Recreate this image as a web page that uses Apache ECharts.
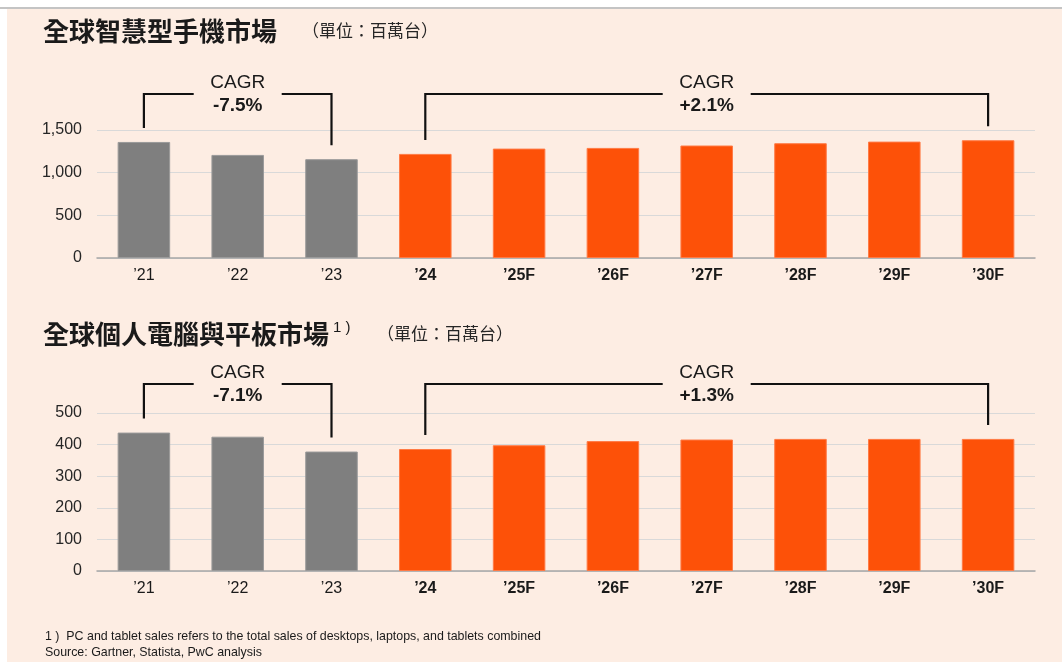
<!DOCTYPE html>
<html><head><meta charset="utf-8">
<script src="https://cdn.jsdelivr.net/npm/echarts@6/dist/echarts.min.js"></script>
<style>html,body{margin:0;padding:0;background:#fff}#c{width:1062px;height:662px}</style>
</head><body><div id="c"></div>
<script>
const categories = ['’21','’22','’23','’24','’25F','’26F','’27F','’28F','’29F','’30F'];
const phoneValues = [1360, 1208, 1158, 1220, 1282, 1290, 1318, 1345, 1364, 1380];
const pcValues = [438, 425, 378, 386, 398, 411, 416, 418, 418, 418];
const actualCount = 3;
// brackets: [startIndex, endIndex, label]
const phoneCagr = [[0, 2, '-7.5%'], [3, 9, '+2.1%']];
const pcCagr = [[0, 2, '-7.1%'], [3, 9, '+1.3%']];
const phoneTicks = [0, 500, 1000, 1500];
const pcTicks = [0, 100, 200, 300, 400, 500];
const title1 = '全球智慧型手機市場';
const title2 = '全球個人電腦與平板市場';
const unitText = '（單位：百萬台）';
const footnote = '1 )  PC and tablet sales refers to the total sales of desktops, laptops, and tablets combined';
const source = 'Source: Gartner, Statista, PwC analysis';

const LAT = 'Liberation Sans, Arial, sans-serif';
const CJK = 'Noto Sans CJK TC, Noto Sans CJK SC, sans-serif';
const GRAY = '#7f7f7f', ORANGE = '#fd5108';

const chart = echarts.init(document.getElementById('c'));

function barData(vals){
  return vals.map((v, i) => ({value: v, itemStyle: i < actualCount
    ? {color: GRAY, borderColor: '#9a9a9a', borderWidth: 1}
    : {color: ORANGE, borderColor: '#ff7a45', borderWidth: 1}}));
}

function bracketRender(vals, brackets, lineOffset){
  return function(params, api){
    const s = api.value(0), e = api.value(1);
    const label = brackets[params.dataIndex][2];
    const ps = api.coord([s, vals[s]]);
    const pe = api.coord([e, vals[e]]);
    const lineY = params.coordSys.y - lineOffset;
    const xm = (ps[0] + pe[0]) / 2;
    const gap = 44;
    const drop = 14;
    const st = {stroke:'#111', lineWidth:2.2, fill:null};
    return {type:'group', children:[
      {type:'polyline', shape:{points:[[ps[0], ps[1]-drop],[ps[0], lineY],[xm-gap, lineY]]}, style:st},
      {type:'polyline', shape:{points:[[xm+gap, lineY],[pe[0], lineY],[pe[0], pe[1]-drop]]}, style:st},
      {type:'text', x:xm, y:lineY-11, style:{text:'CAGR', fontFamily:LAT, fontSize:19, fill:'#1a1a1a', align:'center', verticalAlign:'middle'}},
      {type:'text', x:xm, y:lineY+12, style:{text:label, fontFamily:LAT, fontSize:19, fontWeight:'bold', fill:'#1a1a1a', align:'center', verticalAlign:'middle'}}
    ]};
  };
}

function xAxisDef(gi){
  return {type:'category', gridIndex:gi, data:categories,
    axisLine:{lineStyle:{color:'#a6a6a6', width:1.5}}, axisTick:{show:false},
    axisLabel:{margin:10, formatter:(v,i)=> i>=actualCount ? '{b|'+v+'}' : '{r|'+v+'}',
      rich:{b:{fontFamily:LAT, fontSize:16, fontWeight:'bold', color:'#1a1a1a'}, r:{fontFamily:LAT, fontSize:16, color:'#1a1a1a'}}}};
}
function yAxisDef(gi, ticks, fmt){
  const step = ticks[1]-ticks[0];
  return {type:'value', gridIndex:gi, min:ticks[0], max:ticks[ticks.length-1], interval:step,
    axisLine:{show:false}, axisTick:{show:false},
    splitLine:{lineStyle:{color:'#d9d9d9', width:1.2}},
    axisLabel:{margin:15, fontFamily:LAT, fontSize:16, color:'#262626', formatter:fmt}};
}

chart.setOption({
  animation:false,
  backgroundColor:'#ffffff',
  graphic:[
    {type:'rect', z:-10, shape:{x:7, y:9, width:1055, height:653}, style:{fill:'#fdede3'}},
    {type:'rect', z:-10, shape:{x:0, y:7, width:1062, height:2}, style:{fill:'#c4c4c4'}},
    {type:'text', x:43, y:31, style:{text:title1, fontFamily:CJK, fontSize:26, fontWeight:'bold', fill:'#1a1a1a', verticalAlign:'middle'}},
    {type:'text', x:302, y:31, style:{text:unitText, fontFamily:CJK, fontSize:17, fill:'#262626', verticalAlign:'middle'}},
    {type:'text', x:43, y:334, style:{text:title2, fontFamily:CJK, fontSize:26, fontWeight:'bold', fill:'#1a1a1a', verticalAlign:'middle'}},
    {type:'text', x:333, y:328, style:{text:'1 )', fontFamily:LAT, fontSize:15, fill:'#1a1a1a', verticalAlign:'middle'}},
    {type:'text', x:377, y:334, style:{text:unitText, fontFamily:CJK, fontSize:17, fill:'#262626', verticalAlign:'middle'}},
    {type:'text', x:45, y:637, style:{text:footnote, fontFamily:LAT, fontSize:12.4, fill:'#1a1a1a', verticalAlign:'middle'}},
    {type:'text', x:45, y:653, style:{text:source, fontFamily:LAT, fontSize:12.4, fill:'#1a1a1a', verticalAlign:'middle'}}
  ],
  grid:[
    {left:97, top:130, right:27, height:128},
    {left:97, top:413, right:27, height:158}
  ],
  xAxis:[xAxisDef(0), xAxisDef(1)],
  yAxis:[yAxisDef(0, phoneTicks, v=>v.toLocaleString('en-US')), yAxisDef(1, pcTicks, v=>String(v))],
  series:[
    {type:'bar', xAxisIndex:0, yAxisIndex:0, data:barData(phoneValues), barWidth:'56%'},
    {type:'custom', xAxisIndex:0, yAxisIndex:0, clip:false, z:10,
      data:phoneCagr.map(b=>[b[0], b[1]]), renderItem:bracketRender(phoneValues, phoneCagr, 36)},
    {type:'bar', xAxisIndex:1, yAxisIndex:1, data:barData(pcValues), barWidth:'56%'},
    {type:'custom', xAxisIndex:1, yAxisIndex:1, clip:false, z:10,
      data:pcCagr.map(b=>[b[0], b[1]]), renderItem:bracketRender(pcValues, pcCagr, 29)}
  ]
});
</script></body></html>
